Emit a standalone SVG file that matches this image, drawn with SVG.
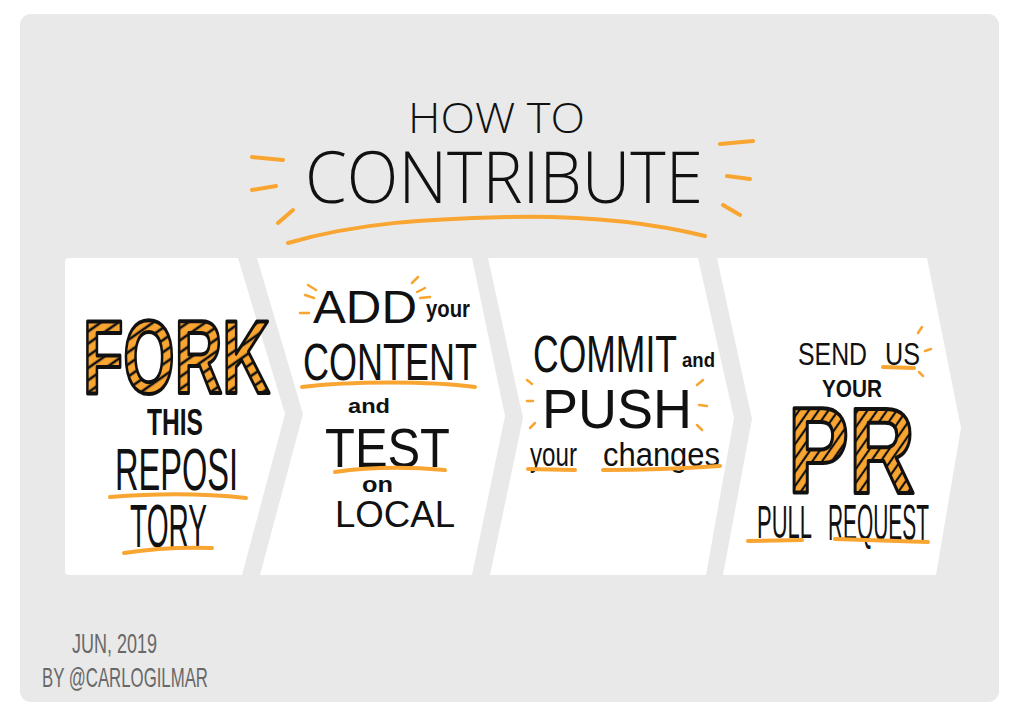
<svg xmlns="http://www.w3.org/2000/svg" width="1024" height="715" viewBox="0 0 1024 715">
  <defs>
    <pattern id="stripeFork" patternUnits="userSpaceOnUse" width="10" height="10" patternTransform="rotate(55)">
      <rect width="10" height="10" fill="#F9A531"/>
      <line x1="2" y1="0" x2="2" y2="10" stroke="#111" stroke-width="2.6"/>
    </pattern>
    <pattern id="stripePR" patternUnits="userSpaceOnUse" width="8" height="8" patternTransform="rotate(35)">
      <rect width="8" height="8" fill="#F9A531"/>
      <line x1="2" y1="0" x2="2" y2="8" stroke="#111" stroke-width="2.2"/>
    </pattern>
    <style>
      .panel { fill: #ffffff; }
      .hand { font-family: "Liberation Sans", "Open Sans", sans-serif; fill: #111; }
      .thin { font-family: "Open Sans", "Liberation Sans", sans-serif; font-weight: 300; fill: #111; }
      .bold { font-weight: bold; }
      .big { font-family: "Liberation Sans", sans-serif; font-weight: 900; stroke: #111; stroke-width: 4; stroke-linejoin: round; }
      .ul { fill: none; stroke: #F9A531; stroke-width: 4; stroke-linecap: round; }
      .spark { fill: none; stroke: #F9A531; stroke-width: 2.5; stroke-linecap: round; }
      .sig { font-family: "Liberation Sans", sans-serif; fill: #686868; }
    </style>
  </defs>

  <rect x="20" y="14" width="979" height="688" rx="11" fill="#E9E9E9"/>

  <g id="title">
    <text class="thin" x="408" y="133" font-size="43" textLength="177" lengthAdjust="spacingAndGlyphs">HOW TO</text>
    <text class="thin" x="305" y="203" font-size="71" textLength="398" lengthAdjust="spacingAndGlyphs">CONTRIBUTE</text>
    <path class="ul" stroke-width="3.5" d="M252 157 L283 160 M252 190 L276 186 M278 223 L293 210 M720 144 L753 141 M727 176 L750 179 M723 205 L740 215"/>
    <path class="ul" stroke-width="5" d="M288 243 C 360 222, 430 219, 507 217 C 600 215, 660 225, 705 236"/>
  </g>

  <g id="connectors"/>

  <g id="step-fork">
    <path class="panel" d="M69 258 L238 258 L285 414 L242 575 L69 575 Q65 575 65 571 L65 262 Q65 258 69 258 Z"/>
    <text class="big" x="83" y="393" font-size="104" fill="url(#stripeFork)" textLength="187" lengthAdjust="spacingAndGlyphs">FORK</text>
    <text class="hand bold" x="147" y="435" font-size="36" textLength="56" lengthAdjust="spacingAndGlyphs">THIS</text>
    <text class="hand" x="115" y="490" font-size="60" textLength="123" lengthAdjust="spacingAndGlyphs">REPOSI</text>
    <path class="ul" d="M110 497 C 160 493, 210 494, 246 498"/>
    <text class="hand" x="130" y="547" font-size="62" textLength="77" lengthAdjust="spacingAndGlyphs">TORY</text>
    <path class="ul" d="M124 553 C 150 549, 185 547, 212 548"/>
  </g>

  <g id="step-add">
    <path class="panel" d="M257 258 L472 258 L505 416 L472 575 L260 575 L303 414 Z"/>
    <path class="spark" d="M308 285 L316 290 M305 295 L314 298 M300 313 L309 313 M412 283 L418 277 M417 292 L425 288 M420 298 L430 297"/>
    <text class="hand" x="313" y="323" font-size="46" textLength="104" lengthAdjust="spacingAndGlyphs">ADD</text>
    <text class="hand bold" x="426" y="317" font-size="24" textLength="44" lengthAdjust="spacingAndGlyphs">your</text>
    <text class="hand" x="303" y="380" font-size="51" textLength="174" lengthAdjust="spacingAndGlyphs">CONTENT</text>
    <path class="ul" d="M302 387 C 350 381, 430 381, 475 387"/>
    <text class="hand bold" x="348" y="413" font-size="20" textLength="42" lengthAdjust="spacingAndGlyphs">and</text>
    <text class="hand" x="325" y="467" font-size="55" textLength="125" lengthAdjust="spacingAndGlyphs">TEST</text>
    <path class="ul" d="M335 472 C 370 467, 410 467, 445 470"/>
    <text class="hand bold" x="362" y="492" font-size="22" textLength="31" lengthAdjust="spacingAndGlyphs">on</text>
    <text class="hand" x="335" y="527" font-size="37" textLength="120" lengthAdjust="spacingAndGlyphs">LOCAL</text>
  </g>

  <g id="step-commit">
    <path class="panel" d="M488 258 L698 258 L734 418 L706 575 L490 575 L523 418 Z"/>
    <text class="hand" x="533" y="372" font-size="52" textLength="144" lengthAdjust="spacingAndGlyphs">COMMIT</text>
    <text class="hand bold" x="682" y="367" font-size="21" textLength="33" lengthAdjust="spacingAndGlyphs">and</text>
    <path class="spark" d="M527 380 L532 384 M527 401 L533 401 M530 428 L535 423 M697 385 L703 380 M699 405 L707 406 M697 425 L702 430"/>
    <text class="hand" x="542" y="428" font-size="56" textLength="150" lengthAdjust="spacingAndGlyphs">PUSH</text>
    <text class="hand" x="530" y="466" font-size="34" textLength="47" lengthAdjust="spacingAndGlyphs">your</text>
    <text class="hand" x="603" y="466" font-size="34" textLength="117" lengthAdjust="spacingAndGlyphs">changes</text>
    <path class="ul" d="M528 469 L575 470"/>
    <path class="ul" d="M603 470 C 650 470, 690 468, 720 466"/>
  </g>

  <g id="step-pr">
    <path class="panel" d="M717 258 L927 258 L961 428 L936 575 L723 575 L752 419 Z"/>
    <text class="hand" x="798" y="365" font-size="32" textLength="69" lengthAdjust="spacingAndGlyphs">SEND</text>
    <text class="hand" x="885" y="365" font-size="32" textLength="35" lengthAdjust="spacingAndGlyphs">US</text>
    <path class="ul" stroke-width="3" d="M883 367 L914 368"/>
    <path class="spark" d="M918 333 L922 327 M925 351 L931 349 M919 372 L923 376"/>
    <text class="hand bold" x="822" y="397" font-size="23" textLength="60" lengthAdjust="spacingAndGlyphs">YOUR</text>
    <text class="big" x="788" y="493" font-size="122" fill="url(#stripePR)" stroke-width="3.5" textLength="127" lengthAdjust="spacingAndGlyphs">PR</text>
    <text class="hand" x="757" y="538" font-size="46" textLength="55" lengthAdjust="spacingAndGlyphs">PULL</text>
    <text class="hand" x="828" y="540" font-size="50" textLength="101" lengthAdjust="spacingAndGlyphs">REQUEST</text>
    <path class="ul" d="M748 541 L802 540"/>
    <path class="ul" d="M835 539 C 870 540, 900 541, 928 542"/>
  </g>

  <g id="signature">
    <text class="sig" x="72" y="653" font-size="28" textLength="85" lengthAdjust="spacingAndGlyphs">JUN, 2019</text>
    <text class="sig" x="42" y="687" font-size="28" textLength="166" lengthAdjust="spacingAndGlyphs">BY @CARLOGILMAR</text>
  </g>
</svg>
